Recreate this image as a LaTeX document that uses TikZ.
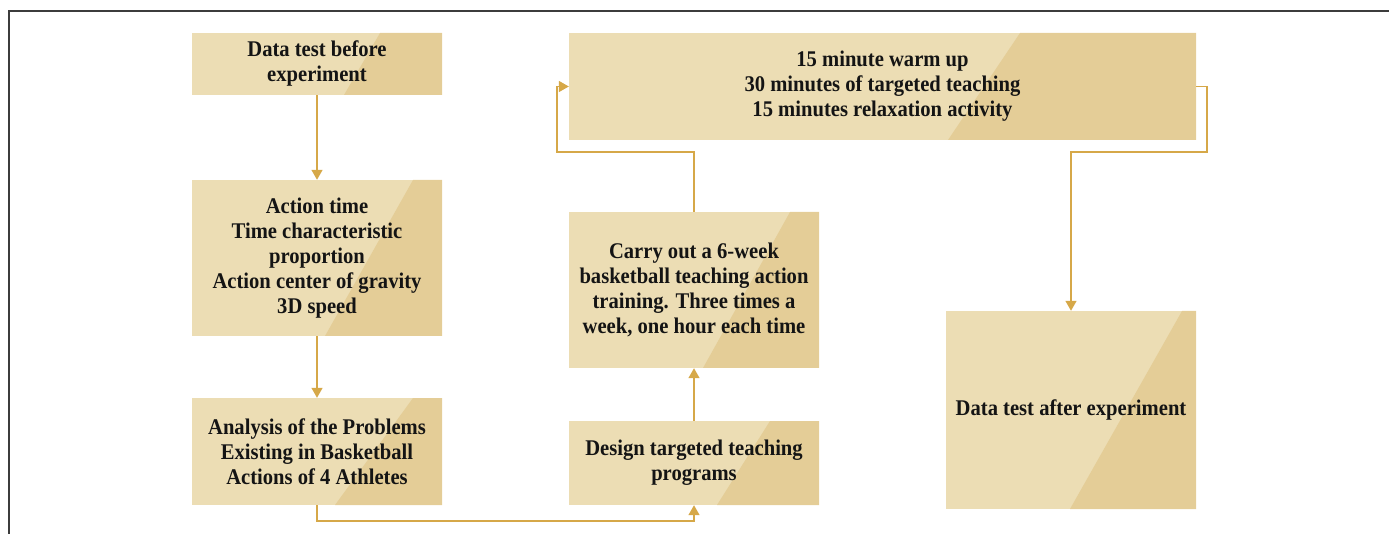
\documentclass[tikz,border=0pt]{standalone}
\usepackage{fontspec}
\setmainfont[FakeStretch=0.92]{Liberation Serif}
\usetikzlibrary{arrows.meta}
\definecolor{boxlight}{RGB}{236,221,180}
\definecolor{boxdark}{RGB}{228,205,151}
\definecolor{linegold}{RGB}{214,168,72}
\definecolor{framegray}{RGB}{60,60,60}
\begin{document}
\begin{tikzpicture}[x=1pt,y=-1pt,
  stagebox/.style n args={4}{rectangle, fill=boxlight, inner sep=0pt, align=center,
    minimum width=#1pt, minimum height=#2pt,
    font=\fontsize{22.4}{25}\selectfont\bfseries, text=black!92,
    path picture={\fill[boxdark] ([xshift=-#3pt]path picture bounding box.north east)
      -- (path picture bounding box.north east) -- (path picture bounding box.south east)
      -- ([xshift=-#4pt]path picture bounding box.south east) -- cycle;}},
  flow/.style={draw=linegold, line width=1.4pt, -{Triangle[width=11pt,length=10pt]}},
  framel/.style={draw=framegray, line width=2.2pt}]
\useasboundingbox (0,0) rectangle (1389,534);
\draw[framel] (9,534) -- (9,11) -- (1389,11);

\node[stagebox={250}{62}{62}{98}] (A) at (317,64) {Data test before\\experiment};
\node[stagebox={250}{156}{29}{117}] (B) at (317,258) {Action time\\Time characteristic\\proportion\\Action center of gravity\\3D speed};
\node[stagebox={250}{107}{29}{107}] (C) at (317,451.5) {Analysis of the Problems\\Existing in Basketball\\Actions of 4 Athletes};
\node[stagebox={250}{84}{49}{102}] (D) at (694,463) {Design targeted teaching\\programs};
\node[stagebox={250}{156}{29}{116}] (E) at (694,290) {Carry out a 6-week\\basketball teaching action\\training. Three times a\\week, one hour each time};
\node[stagebox={627}{107}{176}{248}] (F) at (882.5,86.5) {15 minute warm up\\30 minutes of targeted teaching\\15 minutes relaxation activity};
\node[stagebox={250}{198}{14}{126}] (G) at (1071,410) {Data test after experiment};

\coordinate (c1) at (317,521);
\coordinate (e1) at (557,152);
\coordinate (f1) at (1207,152);

\draw[flow] (A.south) -- (B.north);
\draw[flow] (B.south) -- (C.north);
\draw[flow] (C.south) -- (c1) -| (D.south);
\draw[flow] (D.north) -- (E.south);
\draw[flow] (E.north) |- (e1) |- (F.west);
\draw[flow] (F.east) -| (f1) -| (G.north);
\end{tikzpicture}
\end{document}
